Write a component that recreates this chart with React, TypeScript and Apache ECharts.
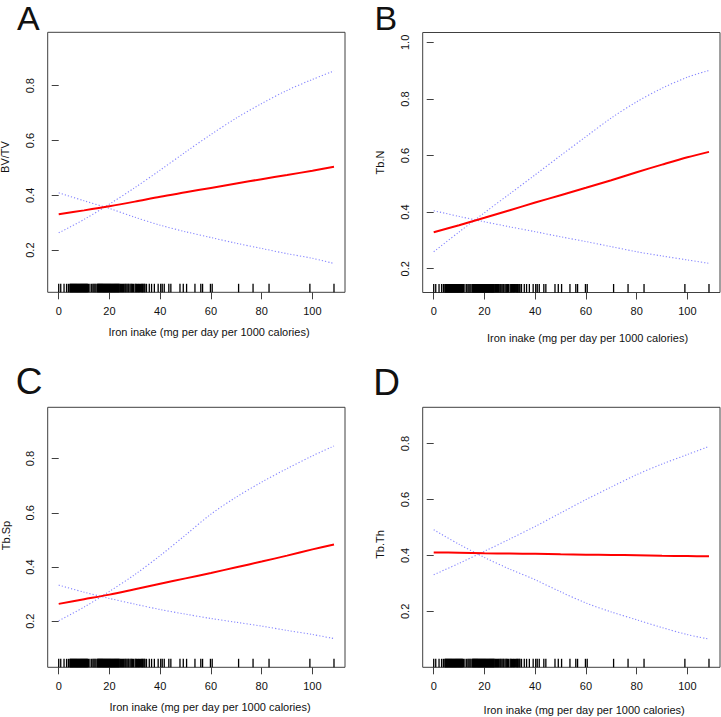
import React, { useEffect, useRef } from "react";
import * as echarts from "echarts";

const xTicks = [0, 20, 40, 60, 80, 100];
const xGrid = [0, 10, 20, 30, 40, 50, 60, 70, 80, 90, 100, 108.5];

const aFit = [0.331, 0.345, 0.36, 0.377, 0.395, 0.411, 0.427, 0.443, 0.459, 0.474, 0.49, 0.504];
const aUpper = [0.263, 0.312, 0.368, 0.428, 0.492, 0.558, 0.622, 0.682, 0.735, 0.783, 0.823, 0.854];
const aLower = [0.409, 0.38, 0.352, 0.32, 0.291, 0.267, 0.246, 0.225, 0.206, 0.187, 0.17, 0.151];

const bFit = [0.329, 0.354, 0.38, 0.407, 0.434, 0.46, 0.486, 0.513, 0.541, 0.568, 0.594, 0.613];
const bUpper = [0.26, 0.33, 0.398, 0.465, 0.532, 0.6, 0.667, 0.733, 0.79, 0.838, 0.877, 0.901];
const bLower = [0.405, 0.385, 0.366, 0.348, 0.331, 0.313, 0.296, 0.278, 0.26, 0.245, 0.231, 0.219];

const cFit = [0.264, 0.281, 0.298, 0.318, 0.338, 0.358, 0.378, 0.399, 0.42, 0.442, 0.465, 0.483];
const cUpper = [0.202, 0.252, 0.31, 0.372, 0.442, 0.518, 0.595, 0.658, 0.713, 0.763, 0.81, 0.846];
const cLower = [0.333, 0.307, 0.284, 0.263, 0.243, 0.226, 0.21, 0.196, 0.182, 0.166, 0.151, 0.136];

const dFit = [0.411, 0.41, 0.408, 0.407, 0.406, 0.404, 0.403, 0.402, 0.401, 0.399, 0.398, 0.397];
const dUpper = [0.331, 0.372, 0.415, 0.459, 0.504, 0.552, 0.6, 0.645, 0.689, 0.727, 0.761, 0.79];
const dLower = [0.492, 0.44, 0.393, 0.351, 0.313, 0.27, 0.23, 0.198, 0.17, 0.142, 0.117, 0.101];

// rug (observed iron intake values)
const rug = [
  0, 0.8, 2.1, 3.1, 3.8, 4.4, 4.6, 4.8, 5.0, 5.2, 5.4, 5.6, 5.8, 6.0, 6.2, 6.4, 6.6, 6.8, 7.0,
  7.2, 7.4, 7.6, 7.8, 8.0, 8.2, 8.4, 8.6, 8.8, 9.0, 9.2, 9.4, 9.6, 9.8, 10.0, 10.2, 10.4, 10.6,
  10.8, 11.0, 11.2, 11.4, 11.7, 12.3, 13.0, 13.5, 13.9, 14.3, 14.7, 15.2, 15.4, 15.6, 15.8, 16.0,
  16.2, 16.4, 16.6, 16.8, 17.0, 17.2, 17.4, 17.6, 17.8, 18.0, 18.2, 18.4, 18.6, 18.8, 19.0, 19.2,
  19.4, 19.6, 19.8, 20.0, 20.2, 20.4, 20.6, 20.8, 21.0, 21.2, 21.4, 21.6, 21.8, 22.0, 22.2, 22.4,
  22.6, 22.8, 23.0, 23.2, 23.4, 23.6, 23.8, 24.1, 24.4, 24.8, 25.1, 25.5, 25.8, 26.2, 26.5, 26.9,
  27.3, 27.6, 28.1, 28.5, 28.8, 29.1, 29.5, 30.1, 30.4, 30.7, 31.1, 31.5, 31.8, 32.3, 32.7, 33.0,
  33.3, 33.7, 34.0, 34.6, 35.7, 36.6, 37.7, 39.2, 40.2, 40.8, 41.6, 43.4, 44.2, 47.8, 49.1, 50.4,
  53.7, 56.0, 56.7, 59.8, 60.5, 70.9, 76.6, 82.9, 99.0, 108.5,
];

const panelLetters = ["A", "B", "C", "D"];
const yNames = ["BV/TV", "Tb.N", "Tb.Sp", "Tb.Th"];
const xName = "Iron inake (mg per day per 1000 calories)";
const yTicksList = [
  [0.2, 0.4, 0.6, 0.8],
  [0.2, 0.4, 0.6, 0.8, 1.0],
  [0.2, 0.4, 0.6, 0.8],
  [0.2, 0.4, 0.6, 0.8],
];
const yRanges = [
  [0.046, 0.995],
  [0.116, 1.035],
  [0.03, 0.989],
  [0.0, 0.93],
];
const fits = [aFit, bFit, cFit, dFit];
const uppers = [aUpper, bUpper, cUpper, dUpper];
const lowers = [aLower, bLower, cLower, dLower];

const FONT = "Liberation Sans, Arial, Helvetica, sans-serif";

export default function App() {
  const ref = useRef<HTMLDivElement>(null);
  useEffect(() => {
    if (!ref.current) return;
    const chart = echarts.init(ref.current, null, { renderer: "svg" });
    const boxes = [
      { left: 47.7, top: 32.3 },
      { left: 422.7, top: 32.5 },
      { left: 47.7, top: 407.3 },
      { left: 422.7, top: 407.3 },
    ];
    const W = 297.3;
    const H = 260;
    const grid = boxes.map((b) => ({
      left: b.left,
      top: b.top,
      width: W,
      height: H,
      show: true,
      borderColor: "#404040",
      borderWidth: 1,
      backgroundColor: "transparent",
    }));
    const xAxis = boxes.map((_, i) => ({
      gridIndex: i,
      type: "value",
      min: -4.34,
      max: 112.84,
      axisLine: { show: false },
      splitLine: { show: false },
      axisTick: { show: true, customValues: xTicks, length: 7, lineStyle: { color: "#404040", width: 1 } },
      axisLabel: { customValues: xTicks, fontSize: 11, color: "#111", margin: 13, fontFamily: FONT },
    }));
    const yAxis = boxes.map((_, i) => ({
      gridIndex: i,
      type: "value",
      min: yRanges[i][0],
      max: yRanges[i][1],
      axisLine: { show: false },
      splitLine: { show: false },
      axisTick: { show: true, customValues: yTicksList[i], length: 7, lineStyle: { color: "#404040", width: 1 } },
      axisLabel: {
        customValues: yTicksList[i],
        fontSize: 11,
        color: "#111",
        margin: 12,
        rotate: 90,
        fontFamily: FONT,
        formatter: (v: number) => v.toFixed(1),
      },
    }));
    const series: any[] = [];
    boxes.forEach((_, i) => {
      const yMin = yRanges[i][0];
      series.push({
        type: "scatter",
        xAxisIndex: i,
        yAxisIndex: i,
        data: rug.map((v) => [v, yMin]),
        symbol: "rect",
        symbolSize: [1.3, 8.5],
        symbolOffset: [0, -4.25],
        itemStyle: { color: "#000", opacity: 1 },
        large: false,
        silent: true,
        clip: false,
        z: 1,
      });
      [uppers[i], lowers[i]].forEach((arr) => {
        series.push({
          type: "line",
          xAxisIndex: i,
          yAxisIndex: i,
          data: xGrid.map((x, k) => [x, arr[k]]),
          smooth: 0.3,
          showSymbol: false,
          lineStyle: { color: "#8585ff", width: 1.1, type: [1.2, 2] },
          silent: true,
        });
      });
      series.push({
        type: "line",
        xAxisIndex: i,
        yAxisIndex: i,
        data: xGrid.map((x, k) => [x, fits[i][k]]),
        smooth: 0.3,
        showSymbol: false,
        lineStyle: { color: "#ff0000", width: 2 },
        silent: true,
      });
    });

    const xTitlePos = [
      [209, 332.3],
      [587.5, 337.7],
      [210, 707.3],
      [584.2, 710.3],
    ];
    const yTitlePos = [
      [4.5, 157],
      [380, 162.5],
      [5.5, 535.5],
      [380, 544.5],
    ];
    const letterPos = [
      [28.3, 18.4, 34],
      [385.8, 18.4, 34],
      [29.2, 381.6, 37],
      [386.7, 382.2, 37],
    ];
    const graphic: any[] = [];
    for (let i = 0; i < 4; i++) {
      graphic.push({
        type: "text",
        x: xTitlePos[i][0],
        y: xTitlePos[i][1],
        style: {
          text: xName,
          font: `11px ${FONT}`,
          fill: "#111",
          textAlign: "center",
          textVerticalAlign: "middle",
        },
      });
      graphic.push({
        type: "text",
        x: yTitlePos[i][0],
        y: yTitlePos[i][1],
        rotation: Math.PI / 2,
        style: {
          text: yNames[i],
          font: `11px ${FONT}`,
          fill: "#111",
          textAlign: "center",
          textVerticalAlign: "middle",
        },
      });
      graphic.push({
        type: "text",
        x: letterPos[i][0],
        y: letterPos[i][1],
        style: {
          text: panelLetters[i],
          font: `${letterPos[i][2]}px ${FONT}`,
          fill: "#111",
          textAlign: "center",
          textVerticalAlign: "middle",
        },
      });
    }

    chart.setOption({
      animation: false,
      backgroundColor: "#fff",
      grid,
      xAxis,
      yAxis,
      series,
      graphic,
    });
    return () => chart.dispose();
  }, []);
  return (
    <div
      ref={ref}
      style={{ position: "absolute", left: 0, top: 0, width: 721, height: 717 }}
    />
  );
}
